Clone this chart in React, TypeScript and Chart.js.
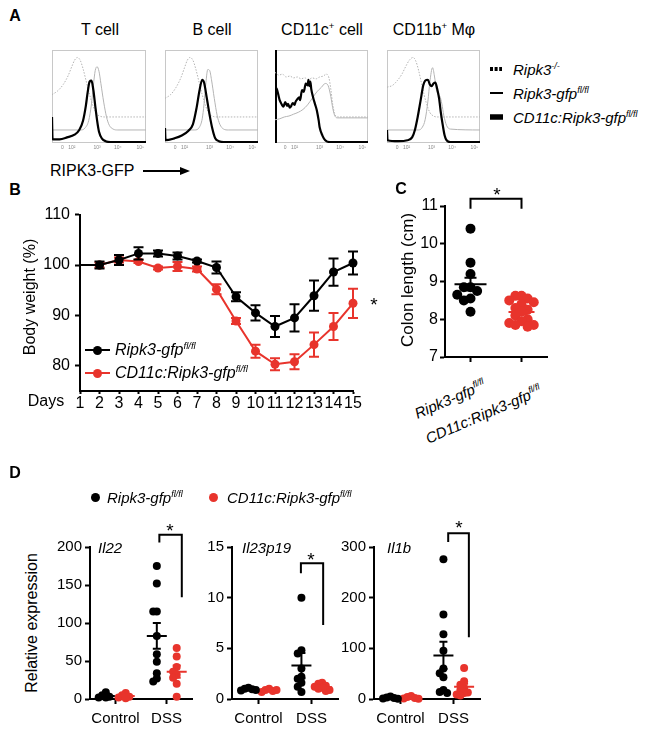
import React, { useEffect, useRef } from 'react';
import { Chart, registerables } from 'chart.js';

Chart.register(...registerables);

const FONT = "'Liberation Sans', Arial, Helvetica, sans-serif";
Chart.defaults.font.family = FONT;
Chart.defaults.color = '#000';

const RED = '#e8342c';
const GREY = '#b4b4b4';

// ---------------- Panel A (flow histograms) ----------------
type Pt = [number, number];
const flowTickPos = [11, 21, 48, 70, 94];
const flowTickLabels = ['0', '10²', '10³', '10⁴', '10⁵'];

const tCellKO: Pt[] = [[0,52],[6,56],[12,63],[17,72],[21,82],[24,89],[27,92],[30,89],[33,80],[36,68],[40,52],[44,39],[48,31],[52,28.5],[56,28],[100,28]];
const tCellFl: Pt[] = [[0,14],[30,14],[35,16],[39,24],[42,42],[44,62],[46,78],[48,82],[50,77],[52,64],[55,44],[58,28],[61,19],[65,15],[70,14],[100,14]];
const tCellCko: Pt[] = [[0,28],[0.6,4],[8,4],[16,6],[24,9],[29,14],[33,24],[36,40],[38,55],[40,66],[42,67],[44,57],[46,40],[48,24],[50,12],[53,5],[57,2],[62,1],[100,1]];

const bCellKO: Pt[] = [[0,48],[6,52],[12,60],[17,70],[21,81],[24,89],[27,92],[30,89],[33,80],[36,68],[40,52],[44,39],[48,31],[52,28.5],[56,28],[100,28]];
const bCellFl: Pt[] = [[0,14],[32,14],[37,17],[40,26],[42,42],[44,65],[46,79],[48,78],[50,68],[53,48],[56,30],[59,20],[63,15],[68,14],[100,14]];
const bCellCko: Pt[] = [[0,16],[0.6,3],[10,5],[18,8],[25,13],[30,20],[34,38],[37,56],[40,68],[42,65],[45,48],[48,30],[51,15],[54,5],[58,2],[63,1],[100,1]];

const dcKO: Pt[] = [[0,76],[4,73],[8,74],[12,71],[16,72],[20,70],[24,71],[28,69],[32,70],[36,68],[40,70],[44,69],[48,71],[52,72],[55,74],[58,70],[60,58],[62,42],[64,32],[67,28],[100,28]];
const dcFl: Pt[] = [[0,25],[5,26],[10,28],[15,29],[20,31],[25,33],[30,36],[35,41],[40,48],[45,55],[50,60],[54,64],[57,62],[60,50],[62,38],[64,30],[67,27],[100,27]];
const dcCko: Pt[] = [[0,60],[2,58],[4,50],[5,46],[7,42],[9,39],[11,44],[13,40],[14,42],[16,38],[17,39],[19,43],[21,41],[22,44],[24,47],[26,49],[27,46],[29,57],[31,55],[33,64],[35,62],[36,68],[37,61],[38,66],[39,58],[41,49],[43,42],[45,35],[47,24],[48,17],[51,8],[54,3],[59,1],[100,1]];

const macKO: Pt[] = [[0,60],[6,62],[11,67],[16,74],[20,82],[24,89],[28,92],[31,88],[34,78],[38,60],[42,44],[46,33],[50,29],[54,28],[100,28]];
const macFl: Pt[] = [[0,14],[34,14],[38,17],[41,25],[44,45],[46,65],[49,81],[51,72],[53,58],[55,52],[57,50],[59,42],[61,30],[64,19],[68,15],[100,14]];
const macCko: Pt[] = [[0,14],[0.6,3],[12,2],[22,3],[27,6],[30,14],[33,28],[36,45],[39,62],[41,67],[44,68],[46,63],[48,61],[50,64],[52,65],[54,58],[56,48],[58,32],[60,19],[62,8],[64,3],[68,1],[100,1]];

// ---------------- Panel B (body weight) ----------------
const days = [1, 2, 3, 4, 5, 6, 7, 8, 9, 10, 11, 12, 13, 14, 15];
const weightFl = [100, 100.0, 101.0, 102.3, 102.3, 101.8, 100.8, 99.5, 93.7, 90.5, 87.8, 89.5, 93.9, 98.6, 100.4];
const weightFlErr = [0, 0.7, 1.0, 1.2, 0.6, 0.7, 0.3, 1.2, 0.9, 1.5, 2.1, 2.7, 3.0, 2.7, 2.3];
const weightCko = [100, 100.0, 101.0, 100.7, 99.4, 99.7, 99.2, 95.2, 88.9, 82.9, 80.3, 80.8, 84.2, 87.8, 92.4];
const weightCkoErr = [0, 0.5, 0.5, 0.3, 0.3, 0.9, 0.5, 1.0, 0.6, 1.3, 1.2, 1.5, 2.4, 2.7, 2.9];
const weightTicks = [80, 90, 100, 110];

// ---------------- Panel C (colon length) ----------------
const colonFl = [10.4, 9.5, 9.2, 8.85, 8.85, 8.75, 8.65, 8.55, 8.5, 8.2];
const colonCko = [8.62, 8.62, 8.55, 8.5, 8.45, 8.4, 8.3, 8.25, 8.2, 8.1, 8.0, 7.95, 7.9, 7.85, 7.85, 7.8];
const colonMean = [8.93, 8.19];
const colonSem = [0.17, 0.05];
const colonTicks = [7, 8, 9, 10, 11];

// ---------------- Panel D (relative expression) ----------------
const dCategories = ['Control', 'DSS'];
// order of means/sems: control Ripk3-gfp, control CD11c, DSS Ripk3-gfp, DSS CD11c
const il22CtrlFl = [9, 5, 3, 2, 2];
const il22CtrlCko = [8, 5, 3, 2, 1];
const il22DssFl = [175, 152, 115, 115, 83, 59, 49, 34, 27, 23];
const il22DssCko = [67, 56, 42, 36, 32, 28, 20, 3];
const il22Means = [4, 4, 83, 36];
const il22Sems = [1.3, 1.3, 17, 8];
const il22Ticks = [0, 50, 100, 150, 200];

const il23CtrlFl = [1.1, 1.0, 0.95, 0.85, 0.9];
const il23CtrlCko = [1.0, 0.9, 0.8, 0.7, 0.9];
const il23DssFl = [10, 4.8, 4.5, 3.0, 2.2, 2.0, 1.6, 1.2, 0.7];
const il23DssCko = [1.6, 1.5, 1.3, 1.2, 1.1, 1.0, 0.9, 0.8];
const il23Means = [0.96, 0.86, 3.3, 1.15];
const il23Sems = [0.05, 0.05, 1.25, 0.1];
const il23Ticks = [0, 5, 10, 15];

const il1bCtrlFl = [5, 3, 2, 1, 0.5];
const il1bCtrlCko = [6, 4, 2, 1, 0.5];
const il1bDssFl = [276, 167, 128, 95, 60, 51, 43, 18, 14, 12];
const il1bDssCko = [61, 35, 28, 22, 18, 13, 12, 9, 7];
const il1bMeans = [2.3, 2.7, 86, 24];
const il1bSems = [0.8, 1, 27, 6];
const il1bTicks = [0, 100, 200, 300];

// ---------------- plugins ----------------
const framePlugin = {
  id: 'frameBox',
  beforeDatasetsDraw(chart: any, _a: any, opts: any) {
    if (!opts || !opts.color) return;
    const { left, top, right, bottom } = chart.chartArea;
    const c = chart.ctx;
    c.save();
    c.strokeStyle = opts.color;
    c.lineWidth = 1;
    c.strokeRect(left + 0.5, top + 0.5, right - left - 1, bottom - top - 1);
    if (opts.leftColor) {
      c.strokeStyle = opts.leftColor;
      c.lineWidth = 2;
      c.beginPath();
      c.moveTo(left + 1, top);
      c.lineTo(left + 1, bottom);
      c.stroke();
    }
    c.restore();
  },
};

const errorBarPlugin = {
  id: 'errorBars',
  afterDatasetDraw(chart: any, args: any) {
    const ds: any = chart.data.datasets[args.index];
    if (!ds.errorBars) return;
    const meta = args.meta;
    const ys = chart.scales[meta.yAxisID];
    const c = chart.ctx;
    c.save();
    c.strokeStyle = ds.borderColor;
    c.lineWidth = 2;
    meta.data.forEach((el: any, i: number) => {
      const e = ds.errorBars[i];
      if (!e) return;
      const v = ds.data[i].y;
      const y1 = ys.getPixelForValue(v + e);
      const y2 = ys.getPixelForValue(v - e);
      const x = el.x;
      c.beginPath();
      c.moveTo(x, y1); c.lineTo(x, y2);
      c.moveTo(x - 5, y1); c.lineTo(x + 5, y1);
      c.moveTo(x - 5, y2); c.lineTo(x + 5, y2);
      c.stroke();
    });
    c.restore();
  },
};

const meanSemPlugin = {
  id: 'meanSem',
  afterDatasetsDraw(chart: any, _a: any, opts: any) {
    if (!opts || !opts.groups) return;
    const xs = chart.scales.x;
    const ys = chart.scales.y;
    const c = chart.ctx;
    c.save();
    c.lineWidth = 2;
    for (const g of opts.groups) {
      const x = xs.getPixelForValue(g.x);
      const ym = ys.getPixelForValue(g.mean);
      const yt = ys.getPixelForValue(g.mean + g.sem);
      const yb = ys.getPixelForValue(g.mean - g.sem);
      c.strokeStyle = g.color;
      c.beginPath();
      c.moveTo(x - g.half, ym); c.lineTo(x + g.half, ym);
      c.moveTo(x, yt); c.lineTo(x, yb);
      c.moveTo(x - opts.cap, yt); c.lineTo(x + opts.cap, yt);
      c.moveTo(x - opts.cap, yb); c.lineTo(x + opts.cap, yb);
      c.stroke();
    }
    c.restore();
  },
};

const bracketPlugin = {
  id: 'sigBracket',
  afterDatasetsDraw(chart: any, _a: any, opts: any) {
    if (!opts || opts.x0 === undefined) return;
    const xs = chart.scales.x;
    const ys = chart.scales.y;
    const x0 = xs.getPixelForValue(opts.x0);
    const x1 = xs.getPixelForValue(opts.x1);
    const yt = ys.getPixelForValue(opts.top);
    const y0 = ys.getPixelForValue(opts.leftEnd);
    const y1 = ys.getPixelForValue(opts.rightEnd);
    const c = chart.ctx;
    c.save();
    c.strokeStyle = '#000';
    c.lineWidth = 2;
    c.beginPath();
    c.moveTo(x0, y0); c.lineTo(x0, yt); c.lineTo(x1, yt); c.lineTo(x1, y1);
    c.stroke();
    c.restore();
  },
};

Chart.register(framePlugin as any, errorBarPlugin as any, meanSemPlugin as any, bracketPlugin as any);

// ---------------- helpers ----------------
function swarm(values: number[], center: number, tol: number, step: number) {
  const placed: { x: number; y: number }[] = [];
  for (const v of values) {
    let x = center;
    for (let i = 0; i < 40; i++) {
      const off = i === 0 ? 0 : (i % 2 ? -1 : 1) * Math.ceil(i / 2) * step;
      const cand = center + off;
      if (!placed.some((p) => Math.abs(p.y - v) < tol && Math.abs(p.x - cand) < step * 0.99)) {
        x = cand;
        break;
      }
    }
    placed.push({ x, y: v });
  }
  return placed;
}

function frame(L: number, T: number, R: number, B: number, yW: number, xH: number, pt: number, pr: number, pl = 0, pb = 0) {
  const left = L - yW - pl;
  const top = T - pt;
  return {
    left,
    top,
    width: R + pr - left,
    height: B + xH + pb - top,
    padding: { left: pl, top: pt, right: pr, bottom: pb },
  };
}

const tickGrid = (len: number) => ({
  display: true,
  drawOnChartArea: false,
  drawTicks: true,
  tickLength: len,
  tickWidth: 2,
  tickColor: '#000',
});
const axisBorder = { display: true, color: '#000', width: 2 };

function axisY(min: number, max: number, ticks: number[], width: number, size: number, len: number, pad: number) {
  return {
    type: 'linear',
    min,
    max,
    afterBuildTicks: (s: any) => { s.ticks = ticks.map((v) => ({ value: v })); },
    afterFit: (s: any) => { s.width = width; },
    ticks: { font: { size }, color: '#000', padding: pad },
    grid: tickGrid(len),
    border: axisBorder,
  };
}

function baseOptions(fr: any, scales: any, plugins: any = {}) {
  return {
    responsive: false,
    animation: false,
    devicePixelRatio: 1,
    events: [],
    layout: { padding: fr.padding },
    plugins: { legend: { display: false }, tooltip: { enabled: false }, ...plugins },
    scales,
  };
}

function ChartCanvas({ fr, make }: { fr: any; make: () => any }) {
  const ref = useRef<HTMLCanvasElement | null>(null);
  useEffect(() => {
    const chart = new Chart(ref.current as HTMLCanvasElement, make());
    return () => chart.destroy();
  }, []);
  return (
    <canvas
      ref={ref}
      width={fr.width}
      height={fr.height}
      style={{ position: 'absolute', left: fr.left, top: fr.top, width: fr.width, height: fr.height, zIndex: 1 }}
    />
  );
}

// ---------------- chart factories ----------------
function histConfig(fr: any, ko: Pt[], fl: Pt[], cko: Pt[], leftColor?: string) {
  const line = (pts: Pt[], color: string, width: number, dash: number[]) => ({
    data: pts.map(([x, y]) => ({ x, y })),
    borderColor: color,
    borderWidth: width,
    borderDash: dash,
    pointRadius: 0,
    cubicInterpolationMode: 'monotone',
    fill: false,
  });
  return {
    type: 'line',
    data: {
      datasets: [line(cko, '#000', 2.2, []), line(fl, GREY, 1, []), line(ko, GREY, 1, [1.5, 1.5])],
    },
    options: baseOptions(
      fr,
      {
        x: {
          type: 'linear',
          min: 0,
          max: 100,
          afterBuildTicks: (s: any) => { s.ticks = flowTickPos.map((v) => ({ value: v })); },
          afterFit: (s: any) => { s.height = 12; },
          ticks: { callback: (_v: any, i: number) => flowTickLabels[i], font: { size: 5 }, color: '#888', padding: 2, autoSkip: false, maxRotation: 0 },
          grid: { display: false, drawTicks: false },
          border: { display: false },
        },
        y: { display: false, min: 0, max: 100 },
      },
      { frameBox: { color: '#c8c8c8', leftColor } }
    ),
  };
}

const frT = frame(52, 50, 146, 143, 0, 12, 3, 3, 3);
const frBc = frame(165, 50, 258, 143, 0, 12, 3, 3, 3);
const frDc = frame(275, 50, 368, 143, 0, 12, 3, 3, 3);
const frMac = frame(387, 50, 480, 143, 0, 12, 3, 3, 3);

const frB = frame(80, 210, 353, 391, 45, 30, 10, 20);
function weightConfig() {
  const ds = (vals: number[], errs: number[], color: string) => ({
    data: days.map((d, i) => ({ x: d, y: vals[i] })),
    errorBars: errs,
    borderColor: color,
    backgroundColor: color,
    borderWidth: 2,
    pointRadius: (c: any) => (c.dataIndex === 0 ? 0 : 4.5),
    pointBorderWidth: 0,
    clip: false,
    tension: 0,
  });
  return {
    type: 'line',
    data: { datasets: [ds(weightFl, weightFlErr, '#000'), ds(weightCko, weightCkoErr, RED)] },
    options: baseOptions(frB, {
      x: {
        type: 'linear',
        min: 1,
        max: 15,
        afterBuildTicks: (s: any) => { s.ticks = days.map((v) => ({ value: v })); },
        afterFit: (s: any) => { s.height = 30; },
        ticks: { font: { size: 16 }, color: '#000', padding: 0, autoSkip: false, maxRotation: 0 },
        grid: tickGrid(3),
        border: axisBorder,
      },
      y: axisY(75, 110, weightTicks, 45, 16, 5, 5),
    }),
  };
}

const frC = frame(445, 206, 547, 357, 35, 12, 25, 15);
function colonConfig() {
  return {
    type: 'scatter',
    data: {
      datasets: [
        { data: swarm(colonFl, 0, 0.2, 0.13), backgroundColor: '#000', borderWidth: 0, pointRadius: 5, clip: false },
        { data: swarm(colonCko, 1, 0.2, 0.12), backgroundColor: RED, borderWidth: 0, pointRadius: 5, clip: false },
      ],
    },
    options: baseOptions(
      frC,
      {
        x: {
          type: 'linear',
          min: -0.5,
          max: 1.5,
          afterBuildTicks: (s: any) => { s.ticks = [0, 1].map((v) => ({ value: v })); },
          afterFit: (s: any) => { s.height = 12; },
          ticks: { callback: () => '', font: { size: 2 } },
          grid: tickGrid(5),
          border: axisBorder,
        },
        y: axisY(7, 11, colonTicks, 35, 16, 5, 2),
      },
      {
        meanSem: {
          cap: 6,
          groups: [
            { x: 0, mean: colonMean[0], sem: colonSem[0], color: '#000', half: 16 },
            { x: 1, mean: colonMean[1], sem: colonSem[1], color: RED, half: 13 },
          ],
        },
        sigBracket: { x0: 0, x1: 1, top: 11.19, leftEnd: 10.93, rightEnd: 10.93 },
      }
    ),
  };
}

function exprConfig(
  fr: any, yMax: number, ticks: number[], yW: number,
  ctrlFl: number[], ctrlCko: number[], dssFl: number[], dssCko: number[],
  means: number[], sems: number[], tol: number, bracket: any
) {
  const step = 0.07;
  return {
    type: 'scatter',
    data: {
      datasets: [
        { data: [...swarm(ctrlFl, -0.19, tol, step), ...swarm(dssFl, 0.81, tol, step)], backgroundColor: '#000', borderWidth: 0, pointRadius: 4, clip: false },
        { data: [...swarm(ctrlCko, 0.2, tol, step), ...swarm(dssCko, 1.2, tol, step)], backgroundColor: RED, borderWidth: 0, pointRadius: 4, clip: false },
      ],
    },
    options: baseOptions(
      fr,
      {
        x: {
          type: 'linear',
          min: -0.5,
          max: 1.5,
          afterBuildTicks: (s: any) => { s.ticks = [0, 1].map((v) => ({ value: v })); },
          afterFit: (s: any) => { s.height = 30; },
          ticks: { callback: (_v: any, i: number) => dCategories[i], font: { size: 15 }, color: '#000', padding: 6, autoSkip: false, maxRotation: 0 },
          grid: tickGrid(5),
          border: axisBorder,
        },
        y: axisY(0, yMax, ticks, yW, 15, 5, 3),
      },
      {
        meanSem: {
          cap: 4,
          groups: [
            { x: -0.19, mean: means[0], sem: sems[0], color: '#000', half: 9 },
            { x: 0.2, mean: means[1], sem: sems[1], color: RED, half: 9 },
            { x: 0.81, mean: means[2], sem: sems[2], color: '#000', half: 10 },
            { x: 1.2, mean: means[3], sem: sems[3], color: RED, half: 10 },
          ],
        },
        sigBracket: bracket,
      }
    ),
  };
}

const frIl22 = frame(90, 547, 192, 699, 45, 30, 30, 8);
const frIl23 = frame(232, 547, 338, 699, 35, 30, 30, 8);
const frIl1b = frame(374, 547, 480, 699, 45, 30, 30, 8);

// ---------------- text helpers ----------------
function Txt({ x, y, a = 'start', size = 16, italic = false, bold = false, rot = 0, children }: any) {
  const tx = a === 'middle' ? '-50%' : a === 'end' ? '-100%' : '0';
  return (
    <div
      style={{
        position: 'absolute',
        left: x,
        top: y,
        transform: `translate(${tx}, -50%)${rot ? ` rotate(${rot}deg)` : ''}`,
        fontSize: size,
        lineHeight: 1,
        whiteSpace: 'nowrap',
        fontStyle: italic ? 'italic' : 'normal',
        fontWeight: bold ? 'bold' : 'normal',
        zIndex: 2,
      }}
    >
      {children}
    </div>
  );
}

const Sup = ({ children }: any) => (
  <span style={{ fontSize: '0.6em', position: 'relative', top: '-0.65em' }}>{children}</span>
);

function Slanted({ x, y, size = 15, children }: any) {
  return (
    <div
      style={{
        position: 'absolute',
        left: x,
        top: y - size * 0.8,
        fontSize: size,
        lineHeight: 1,
        whiteSpace: 'nowrap',
        fontStyle: 'italic',
        transformOrigin: `0 ${size * 0.8}px`,
        transform: 'rotate(-23.5deg)',
        zIndex: 2,
      }}
    >
      {children}
    </div>
  );
}

const Dot = ({ x, y, r, color }: any) => (
  <div style={{ position: 'absolute', left: x - r, top: y - r, width: 2 * r, height: 2 * r, borderRadius: '50%', background: color, zIndex: 2 }} />
);
const Bar = ({ x, y, w, h, color }: any) => (
  <div style={{ position: 'absolute', left: x, top: y - h / 2, width: w, height: h, background: color, zIndex: 2 }} />
);

export default function App() {
  return (
    <div
      style={{
        position: 'absolute',
        left: 0,
        top: 0,
        width: 660,
        height: 735,
        background: '#fff',
        fontFamily: FONT,
        color: '#000',
        overflow: 'hidden',
      }}
    >
      {/* Panel A */}
      <Txt x={15} y={16} a="middle" bold>A</Txt>
      <Txt x={100} y={30} a="middle">T cell</Txt>
      <Txt x={212} y={30} a="middle">B cell</Txt>
      <Txt x={322} y={30} a="middle">CD11c<Sup>+</Sup> cell</Txt>
      <Txt x={434} y={30} a="middle">CD11b<Sup>+</Sup> Mφ</Txt>
      <ChartCanvas fr={frT} make={() => histConfig(frT, tCellKO, tCellFl, tCellCko)} />
      <ChartCanvas fr={frBc} make={() => histConfig(frBc, bCellKO, bCellFl, bCellCko)} />
      <ChartCanvas fr={frDc} make={() => histConfig(frDc, dcKO, dcFl, dcCko, '#000')} />
      <ChartCanvas fr={frMac} make={() => histConfig(frMac, macKO, macFl, macCko)} />
      <Txt x={50} y={171} size={16}>RIPK3-GFP</Txt>
      <svg style={{ position: 'absolute', left: 140, top: 164, zIndex: 2 }} width={52} height={14}>
        <line x1={3} y1={7} x2={42} y2={7} stroke="#000" strokeWidth={2} />
        <polygon points="50,7 40,3 40,11" fill="#000" />
      </svg>
      <svg style={{ position: 'absolute', left: 488, top: 60, zIndex: 2 }} width={20} height={66}>
        <line x1={2} y1={9} x2={14} y2={9} stroke="#000" strokeWidth={4} strokeDasharray="3,1.6" />
        <line x1={2} y1={33} x2={15} y2={33} stroke="#000" strokeWidth={2} />
        <line x1={2} y1={57} x2={15} y2={57} stroke="#000" strokeWidth={5.5} />
      </svg>
      <Txt x={513} y={69} size={15} italic>Ripk3<Sup>-/-</Sup></Txt>
      <Txt x={513} y={93} size={15} italic>Ripk3-gfp<Sup>fl/fl</Sup></Txt>
      <Txt x={513} y={117} size={15} italic>CD11c:Ripk3-gfp<Sup>fl/fl</Sup></Txt>

      {/* Panel B */}
      <Txt x={15} y={190} a="middle" bold>B</Txt>
      <Txt x={30} y={297} a="middle" rot={-90}>Body weight (%)</Txt>
      <Txt x={46} y={401} a="middle">Days</Txt>
      <ChartCanvas fr={frB} make={weightConfig} />
      <Bar x={85} y={350} w={25} h={2} color="#000" />
      <Dot x={97} y={350} r={4.5} color="#000" />
      <Txt x={115} y={350} italic>Ripk3-gfp<Sup>fl/fl</Sup></Txt>
      <Bar x={85} y={373} w={25} h={2} color={RED} />
      <Dot x={97} y={373} r={4.5} color={RED} />
      <Txt x={115} y={373} italic>CD11c:Ripk3-gfp<Sup>fl/fl</Sup></Txt>
      <Txt x={374} y={304} a="middle" size={19}>*</Txt>

      {/* Panel C */}
      <Txt x={401} y={189} a="middle" bold>C</Txt>
      <Txt x={407} y={280} a="middle" rot={-90} size={17}>Colon length (cm)</Txt>
      <ChartCanvas fr={frC} make={colonConfig} />
      <Txt x={497} y={194} a="middle" size={19}>*</Txt>
      <Slanted x={417} y={418}>Ripk3-gfp<Sup>fl/fl</Sup></Slanted>
      <Slanted x={428} y={443}>CD11c:Ripk3-gfp<Sup>fl/fl</Sup></Slanted>

      {/* Panel D */}
      <Txt x={15} y={473} a="middle" bold>D</Txt>
      <Dot x={95} y={497} r={4.5} color="#000" />
      <Txt x={107} y={497} size={15} italic>Ripk3-gfp<Sup>fl/fl</Sup></Txt>
      <Dot x={213} y={497} r={4.5} color={RED} />
      <Txt x={227} y={497} size={15} italic>CD11c:Ripk3-gfp<Sup>fl/fl</Sup></Txt>
      <Txt x={32} y={623} a="middle" rot={-90}>Relative expression</Txt>
      <ChartCanvas
        fr={frIl22}
        make={() => exprConfig(frIl22, 200, il22Ticks, 45, il22CtrlFl, il22CtrlCko, il22DssFl, il22DssCko, il22Means, il22Sems, 7,
          { x0: 0.86, x1: 1.3, top: 216, leftEnd: 206, rightEnd: 134 })}
      />
      <ChartCanvas
        fr={frIl23}
        make={() => exprConfig(frIl23, 15, il23Ticks, 35, il23CtrlFl, il23CtrlCko, il23DssFl, il23DssCko, il23Means, il23Sems, 0.5,
          { x0: 0.8, x1: 1.22, top: 13.4, leftEnd: 12.4, rightEnd: 7.3 })}
      />
      <ChartCanvas
        fr={frIl1b}
        make={() => exprConfig(frIl1b, 300, il1bTicks, 45, il1bCtrlFl, il1bCtrlCko, il1bDssFl, il1bDssCko, il1bMeans, il1bSems, 10,
          { x0: 0.9, x1: 1.29, top: 327, leftEnd: 310, rightEnd: 122 })}
      />
      <Txt x={98} y={547} size={15} italic>Il22</Txt>
      <Txt x={242} y={547} size={15} italic>Il23p19</Txt>
      <Txt x={387} y={547} size={15} italic>Il1b</Txt>
      <Txt x={170} y={530} a="middle" size={19}>*</Txt>
      <Txt x={311} y={559} a="middle" size={19}>*</Txt>
      <Txt x={459} y={527} a="middle" size={19}>*</Txt>
    </div>
  );
}
